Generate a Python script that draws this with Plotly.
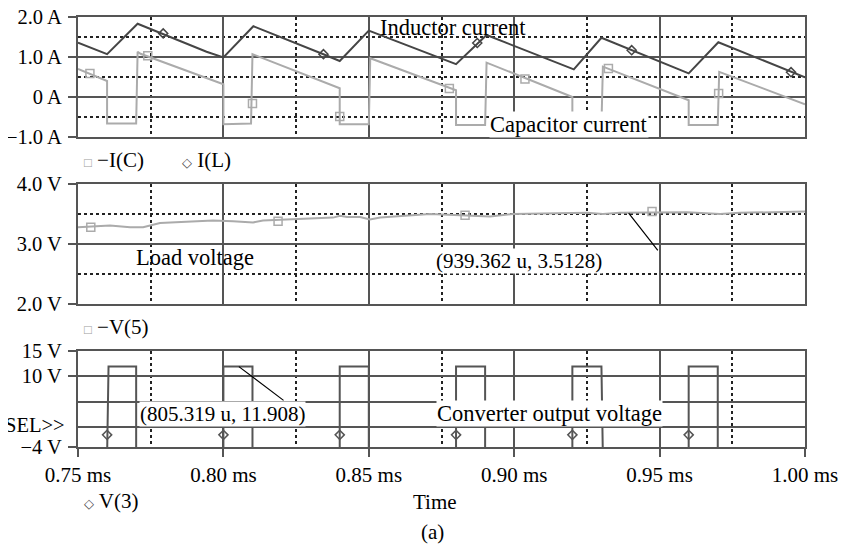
import plotly.graph_objects as go

# ---------------- data ----------------
# Inductor current I(L)  [time in ms, current in A]
t_IL = [0.750, 0.760, 0.7705, 0.7942, 0.800, 0.8103, 0.8344, 0.840, 0.850, 0.880,
        0.8905, 0.9205, 0.930, 0.960, 0.9702, 1.000]
i_IL = [1.36, 1.07, 1.83, 1.13, 0.99, 1.77, 1.07, 0.90, 1.66, 0.82,
        1.55, 0.69, 1.48, 0.59, 1.37, 0.49]
t_IL_mk = [0.7793, 0.8344, 0.8873, 0.9404, 0.9952]
i_IL_mk = [1.59, 1.07, 1.35, 1.17, 0.62]

# Capacitor current -I(C)
t_IC = [0.750, 0.760, 0.760, 0.770, 0.7705, 0.7715, 0.800, 0.800, 0.8095, 0.8100,
        0.840, 0.840, 0.850, 0.8505, 0.880, 0.880, 0.890, 0.8905, 0.920, 0.920,
        0.930, 0.9305, 0.960, 0.960, 0.970, 0.9705, 1.000]
i_IC = [0.70, 0.40, -0.66, -0.66, 1.13, 1.08, 0.32, -0.68, -0.66, 1.07,
        0.22, -0.68, -0.68, 0.97, 0.17, -0.70, -0.70, 0.86, 0.00, -0.70,
        -0.70, 0.76, -0.08, -0.70, -0.70, 0.63, -0.18]
t_IC_mk = [0.7541, 0.7740, 0.8100, 0.8400, 0.8777, 0.9037, 0.9324, 0.9703]
i_IC_mk = [0.59, 1.03, -0.16, -0.49, 0.21, 0.45, 0.71, 0.09]

# Load voltage -V(5)
t_V5 = [0.7500, 0.7610, 0.7679, 0.7724, 0.7782, 0.7964, 0.8033, 0.8102, 0.8136,
        0.8239, 0.8377, 0.8401, 0.8425, 0.8470, 0.8504, 0.8539, 0.8710, 0.8917,
        0.8996, 0.9250, 0.9305, 0.9364, 0.9594, 0.9708, 0.9776, 1.0000]
v_V5 = [3.28, 3.31, 3.28, 3.28, 3.35, 3.39, 3.38, 3.36, 3.39,
        3.41, 3.44, 3.47, 3.45, 3.45, 3.41, 3.44, 3.50, 3.46,
        3.50, 3.52, 3.50, 3.52, 3.53, 3.50, 3.52, 3.54]
t_V5_mk = [0.7544, 0.8188, 0.8831, 0.9474]
v_V5_mk = [3.28, 3.38, 3.48, 3.54]

# Converter output voltage V(3)
t_V3 = [0.750, 0.760, 0.7605, 0.770, 0.770, 0.800, 0.800, 0.810, 0.810, 0.840,
        0.840, 0.850, 0.850, 0.880, 0.880, 0.890, 0.890, 0.920, 0.920, 0.930,
        0.9305, 0.960, 0.960, 0.970, 0.970, 1.000]
v_V3 = [-6, -6, 11.908, 11.908, -6, -6, 11.908, 11.908, -6, -6,
        11.908, 11.908, -6, -6, 11.908, 11.908, -6, -6, 11.908, 11.908,
        -6, -6, 11.908, 11.908, -6, -6]
t_V3_mk = [0.760, 0.800, 0.840, 0.880, 0.920, 0.960]
v_V3_mk = [-1.6, -1.6, -1.6, -1.6, -1.6, -1.6]

# ticks
x_ticks = [0.75, 0.80, 0.85, 0.90, 0.95, 1.00]
x_ticktext = ["0.75 ms", "0.80 ms", "0.85 ms", "0.90 ms", "0.95 ms", "1.00 ms"]
x_minor = [0.775, 0.825, 0.875, 0.925, 0.975]
y1_ticks = [2.0, 1.0, 0.0, -1.0]
y1_ticktext = ["2.0 A", "1.0 A", "0 A", "\u22121.0 A"]
y1_minor = [1.5, 0.5, -0.5]
y2_ticks = [4.0, 3.0, 2.0]
y2_ticktext = ["4.0 V", "3.0 V", "2.0 V"]
y2_minor = [3.5, 2.5]
y3_ticks = [15, 10, -4]
y3_ticktext = ["15 V", "10 V", "\u22124 V"]
y3_minor = [5, 0]

# ---------------- styling ----------------
FONT = "Liberation Serif"
FS = 21
FSY = 20.5
FSL = 22.5
DARK = "#454545"
LIGHT = "#ababab"
GRID = "#555555"
DOT = "#222222"

fig = go.Figure()

fig.add_trace(go.Scatter(x=t_IL, y=i_IL, mode="lines", line=dict(color=DARK, width=2),
                         xaxis="x", yaxis="y", showlegend=False))
fig.add_trace(go.Scatter(x=t_IL_mk, y=i_IL_mk, mode="markers",
                         marker=dict(symbol="diamond-open", size=7, color=DARK, line=dict(width=1.5)),
                         xaxis="x", yaxis="y", showlegend=False))
fig.add_trace(go.Scatter(x=t_IC, y=i_IC, mode="lines", line=dict(color=LIGHT, width=2),
                         xaxis="x", yaxis="y", showlegend=False))
fig.add_trace(go.Scatter(x=t_IC_mk, y=i_IC_mk, mode="markers",
                         marker=dict(symbol="square-open", size=8, color=LIGHT, line=dict(width=1.5)),
                         xaxis="x", yaxis="y", showlegend=False))

fig.add_trace(go.Scatter(x=t_V5, y=v_V5, mode="lines", line=dict(color=LIGHT, width=2),
                         xaxis="x2", yaxis="y2", showlegend=False))
fig.add_trace(go.Scatter(x=t_V5_mk, y=v_V5_mk, mode="markers",
                         marker=dict(symbol="square-open", size=8, color=LIGHT, line=dict(width=1.5)),
                         xaxis="x2", yaxis="y2", showlegend=False))

fig.add_trace(go.Scatter(x=t_V3, y=v_V3, mode="lines", line=dict(color=GRID, width=2),
                         xaxis="x3", yaxis="y3", showlegend=False))
fig.add_trace(go.Scatter(x=t_V3_mk, y=v_V3_mk, mode="markers",
                         marker=dict(symbol="diamond-open", size=7, color=GRID, line=dict(width=1.5)),
                         xaxis="x3", yaxis="y3", showlegend=False))


def xaxis_cfg(anchor, labels):
    d = dict(anchor=anchor, domain=[0, 1], range=[0.75, 1.0], tickmode="array",
             tickvals=x_ticks, ticktext=x_ticktext, showticklabels=labels,
             automargin=False, ticklabeloverflow="allow",
             showgrid=True, gridcolor=GRID, gridwidth=1.5, zeroline=False,
             showline=True, linecolor=GRID, linewidth=2, mirror=True,
             ticks="outside" if labels else "", ticklen=8, tickwidth=2, tickcolor=GRID,
             minor=dict(tickvals=x_minor, showgrid=True, griddash="dot",
                        gridcolor=DOT, gridwidth=1.5, ticks=""))
    return d


def yaxis_cfg(anchor, dom, rng, tv, tt, minor):
    return dict(anchor=anchor, domain=dom, range=rng, tickmode="array",
                tickvals=tv, ticktext=tt, automargin=False, ticklabeloverflow="allow",
                tickfont=dict(size=FSY),
                showgrid=True, gridcolor=GRID, gridwidth=1.5,
                zeroline=False, showline=True, linecolor=GRID, linewidth=2, mirror=True,
                ticks="outside", ticklen=8, tickwidth=2, tickcolor=GRID,
                ticklabelstandoff=2,
                minor=dict(tickvals=minor, showgrid=True,
                           griddash="dot" if anchor != "x3" else "solid",
                           gridcolor=DOT if anchor != "x3" else GRID,
                           gridwidth=1.5, ticks=""))


# page body has an 8 px margin, so the figure is sized/margined to compensate
fig.update_layout(
    template="none",
    width=842, height=537, autosize=False,
    margin=dict(l=70, r=45, t=9, b=98),
    paper_bgcolor="white", plot_bgcolor="white",
    font=dict(family=FONT, size=FS, color="black"),
    xaxis=xaxis_cfg("y", False),
    xaxis2=xaxis_cfg("y2", False),
    xaxis3=xaxis_cfg("y3", True),
    yaxis=yaxis_cfg("x", [0.7209, 1.0], [-1.0, 2.0], y1_ticks, y1_ticktext, y1_minor),
    yaxis2=yaxis_cfg("x2", [0.3326, 0.6116], [2.0, 4.0], y2_ticks, y2_ticktext, y2_minor),
    yaxis3=yaxis_cfg("x3", [0.0, 0.2233], [-4, 15], y3_ticks, y3_ticktext, y3_minor),
)


def A(**kw):
    base = dict(xanchor="center", yanchor="middle", showarrow=False)
    base.update(kw)
    return base


ann = []
# leader lines
ann.append(dict(x=0.805319, y=11.908, ax=0.8212, ay=5.0, xref="x3", yref="y3",
                axref="x3", ayref="y3", text="", showarrow=True, arrowhead=0,
                arrowwidth=1.2, arrowcolor="black", standoff=0, startstandoff=0))
ann.append(dict(x=0.939362, y=3.5128, ax=0.9498, ay=2.87, xref="x2", yref="y2",
                axref="x2", ayref="y2", text="", showarrow=True, arrowhead=0,
                arrowwidth=1.2, arrowcolor="black", standoff=0, startstandoff=0))

# in-plot labels
ann.append(A(x=0.8790, y=1.75, xref="x", yref="y", text="Inductor current",
             font=dict(size=FSL)))
ann.append(A(x=0.9188, y=-0.675, xref="x", yref="y", text="Capacitor current",
             font=dict(size=FSL), bgcolor="white", borderpad=0))
ann.append(A(x=0.7902, y=2.78, xref="x2", yref="y2", text="Load voltage",
             font=dict(size=FSL)))
ann.append(A(x=0.9018, y=2.72, xref="x2", yref="y2", text="(939.362 u, 3.5128)",
             bgcolor="white", borderpad=0))
ann.append(A(x=0.7997, y=2.5, xref="x3", yref="y3", text="(805.319 u, 11.908)",
             bgcolor="white", borderpad=0))
ann.append(A(x=0.9123, y=2.6, xref="x3", yref="y3", text="Converter output voltage",
             font=dict(size=FSL), bgcolor="white", borderpad=0))
ann.append(A(x=(67 - 78) / 727, y=0.3, xref="paper", yref="y3", text="SEL>>",
             xanchor="right", font=dict(size=FSY)))

# legend-like labels
sq = "<span style='color:#9a9a9a;font-size:13px'>\u25a1</span> "
dm = "<span style='color:#454545;font-size:13px'>\u25c7</span> "
ann.append(A(x=0.005, y=0.667, xref="paper", yref="paper", xanchor="left",
             text=sq + "\u2212I(C)"))
ann.append(A(x=0.140, y=0.667, xref="paper", yref="paper", xanchor="left",
             text=dm + "I(L)"))
ann.append(A(x=0.005, y=0.279, xref="paper", yref="paper", xanchor="left",
             text=sq + "\u2212V(5)"))
ann.append(A(x=0.005, y=-0.1256, xref="paper", yref="paper", xanchor="left",
             text=dm + "V(3)"))

# axis title and caption
ann.append(A(x=(435 - 78) / 727, y=(447 - 502) / 430, xref="paper", yref="paper",
             text="Time"))
ann.append(A(x=(432 - 78) / 727, y=(447 - 532) / 430, xref="paper", yref="paper",
             text="(a)"))

fig.update_layout(annotations=ann)

fig.write_html("out.html")
